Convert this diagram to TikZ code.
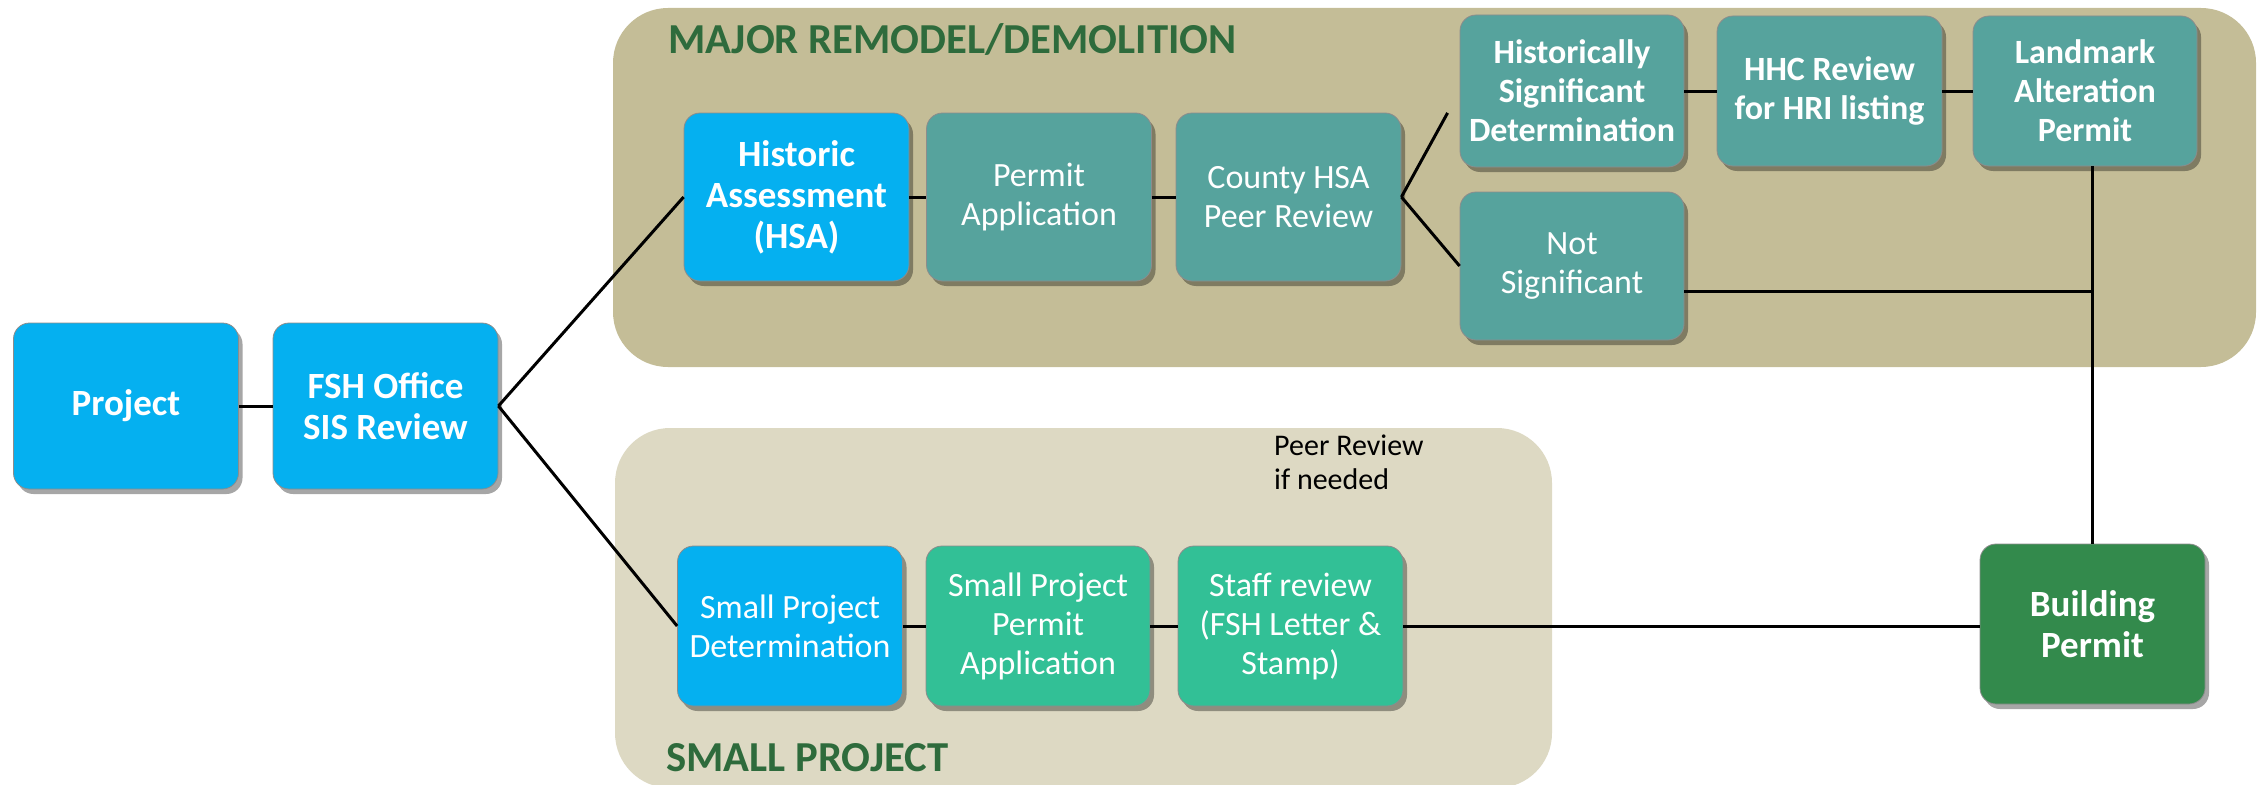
\documentclass[tikz,border=0pt]{standalone}
\usepackage{fontspec}
\setmainfont{Carlito}
\usetikzlibrary{shadows}
\definecolor{boxblue}{HTML}{05B0F0}
\definecolor{boxteal}{HTML}{56A39D}
\definecolor{boxmint}{HTML}{32C096}
\definecolor{boxgreen}{HTML}{338A4C}
\definecolor{majortan}{HTML}{C4BD97}
\definecolor{smalltan}{HTML}{DDD9C3}
\definecolor{titlegreen}{HTML}{2E6B3C}
\tikzstyle{stage} = [draw=black!45, line width=0.8pt, rounded corners=16pt, minimum width=225pt, minimum height=166pt, inner sep=0pt, align=center, text=white, font=\fontsize{34}{39}\selectfont, drop shadow={shadow xshift=4pt, shadow yshift=-5pt, opacity=0.35, fill=black}]
\tikzstyle{strong} = [font=\bfseries\fontsize{34}{39}\selectfont]
\tikzstyle{loud} = [font=\bfseries\fontsize{37}{41}\selectfont]
\tikzstyle{link} = [line width=3pt]
\tikzstyle{heading} = [anchor=base west, inner sep=0pt, text=titlegreen, font=\bfseries\fontsize{42.7}{43}\selectfont]

\begin{document}
\begin{tikzpicture}[x=1pt,y=-1pt]
            \useasboundingbox (0,0) rectangle (2258,784);
            % panels
          \fill [majortan, rounded corners=55pt] (613,8) rectangle (2256,367);
          \fill [smalltan, rounded corners=55pt] (615,428) rectangle (1552,788);
          \node [heading] (majortitle) at (668,53) {MAJOR REMODEL/DEMOLITION};
          \node [heading] (smalltitle) at (666,771) {SMALL PROJECT};
          \node [anchor=base west, inner sep=0pt, align=left, font=\fontsize{30}{34}\selectfont] (peernote) at (1274,489) {Peer Review\\if needed};

            % stages
          \node [stage, loud, fill=boxblue] (project) at (126,406) {Project};
          \node [stage, loud, fill=boxblue] (fsh) at (385.5,406) {FSH Office\\SIS Review};

          \node [stage, loud, fill=boxblue, minimum height=168pt] (ha) at (796.5,197) {Historic\\Assessment\\(HSA)};
          \node [stage, fill=boxteal, minimum height=168pt] (permit) at (1039,197) {Permit\\Application};
          \node [stage, fill=boxteal, minimum height=168pt] (county) at (1288.5,197) {County HSA\\Peer Review};
          \node [stage, strong, fill=boxteal, minimum width=224pt, minimum height=152pt] (hsd) at (1572,91) {Historically\\Significant\\Determination};
          \node [stage, strong, fill=boxteal, minimum height=150pt] (hhc) at (1829.5,91) {HHC Review\\for HRI listing};
          \node [stage, strong, fill=boxteal, minimum width=224pt, minimum height=150pt] (landmark) at (2085,91) {Landmark\\Alteration\\Permit};
          \node [stage, fill=boxteal, minimum width=224pt, minimum height=148pt] (notsig) at (1572,266) {Not\\Significant};

          \node [stage, fill=boxblue, minimum height=160pt] (spd) at (790,626) {Small Project\\Determination};
          \node [stage, fill=boxmint, minimum width=224pt, minimum height=160pt] (sppa) at (1038,626) {Small Project\\Permit\\Application};
          \node [stage, fill=boxmint, minimum height=160pt] (staff) at (1290.5,626) {Staff review\\(FSH Letter \&\\Stamp)};
          \node [stage, loud, fill=boxgreen, minimum height=160pt] (bp) at (2092.5,624) {Building\\Permit};

            % connectors
          \draw [link] (project) -- (fsh);
          \draw [link] (fsh.east) -- (ha.west);
          \draw [link] (fsh.east) -- (spd.west);
          \draw [link] (ha) -- (permit);
          \draw [link] (permit) -- (county);
          \draw [link, shorten >=25pt] (county.east) -- (hsd.west);
          \draw [link] (county.east) -- (notsig.west);
          \draw [link] (hsd) -- (hhc);
          \draw [link] (hhc) -- (landmark);
          \coordinate (drop) at (bp.north |- landmark.south);
          \draw [link] (drop) -- (bp.north);
          \coordinate (nsout) at ([yshift=-25pt]notsig.east);
          \coordinate (nsjoin) at (nsout -| bp.north);
          \draw [link] (nsout) -- (nsjoin);
          \draw [link] (spd) -- (sppa);
          \draw [link] (sppa) -- (staff);
          \draw [link] (staff.east) -- (staff.east -| bp.west);

        \end{tikzpicture}
\end{document}
